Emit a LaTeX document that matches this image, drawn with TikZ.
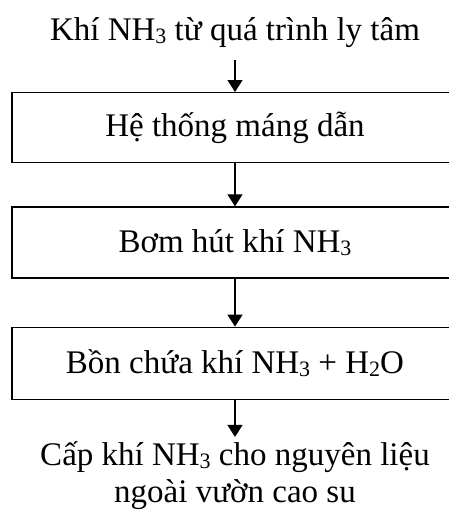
\documentclass[tikz,border=0pt]{standalone}
\usepackage{fontspec}
\setmainfont{Liberation Serif}
\usetikzlibrary{arrows.meta,positioning}
\newcommand{\chemsub}[1]{\raisebox{-0.2ex}{\fontsize{22}{22}\selectfont #1}}

\begin{document}
\begin{tikzpicture}[node distance=43pt, font=\fontsize{33}{37}\selectfont,
    procbox/.style={draw, line width=1.3pt, minimum width=446pt, minimum height=70pt, inner sep=0pt},
    flowtext/.style={align=center, inner sep=0pt}]
    \useasboundingbox (0,0) rectangle (448pt,-523pt);
            \node[flowtext, anchor=base, inner ysep=12.7pt] (src) at (235pt,-40pt) {Khí NH\chemsub{3} từ quá trình ly tâm};
            \node[procbox, below=32pt of src] (b1) {Hệ thống máng dẫn};
            \node[procbox, below=43pt of b1, minimum height=71pt] (b2) {Bơm hút khí NH\chemsub{3}};
            \node[procbox, below=48pt of b2, minimum height=72pt] (b3) {Bồn chứa khí NH\chemsub{3} + H\chemsub{2}O};
            \node[flowtext, below=40pt of b3, inner ysep=1pt] (dst) {Cấp khí NH\chemsub{3} cho nguyên liệu\\ngoài vườn cao su};
            \draw[->,>={Triangle[length=12pt,width=15pt]},line width=1.3pt] (src) -- (b1);
            \draw[->,>={Triangle[length=12pt,width=15pt]},line width=1.3pt] (b1) -- (b2);
            \draw[->,>={Triangle[length=12pt,width=15pt]},line width=1.3pt] (b2) -- (b3);
            \draw[->,>={Triangle[length=12pt,width=15pt]},line width=1.3pt,shorten >=3pt] (b3) -- (dst);
        \end{tikzpicture}
\end{document}
